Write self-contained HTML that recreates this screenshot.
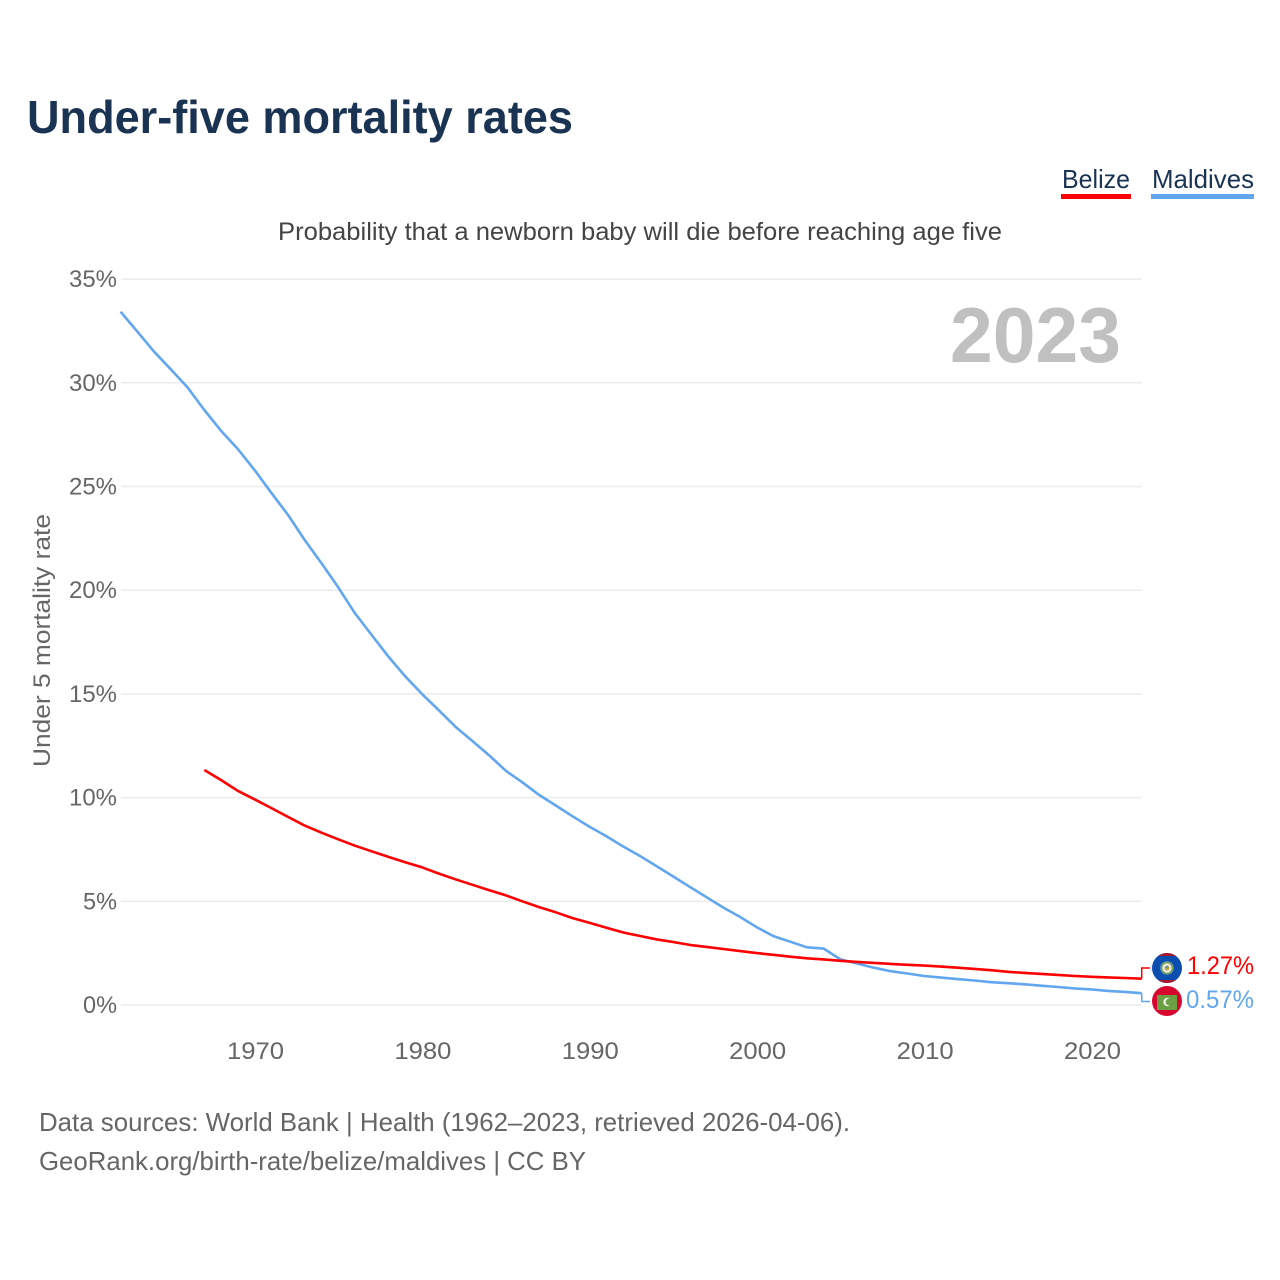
<!DOCTYPE html>
<html lang="en">
<head>
<meta charset="utf-8">
<title>Under-five mortality rates</title>
<style>
html,body{margin:0;padding:0;background:#fff;width:1280px;height:1280px;overflow:hidden}
svg{display:block;font-family:"Liberation Sans",sans-serif}
</style>
</head>
<body>
<svg id="chart" xmlns="http://www.w3.org/2000/svg" width="1280" height="1280" viewBox="0 0 1280 1280">
  <rect x="0" y="0" width="1280" height="1280" fill="#fff"/>
  <text x="27" y="133" font-size="46" font-weight="700" fill="#1a3353" textLength="546" lengthAdjust="spacingAndGlyphs">Under-five mortality rates</text>
  <g>
    <text x="1062" y="188" font-size="26" fill="#1a3353" textLength="68" lengthAdjust="spacingAndGlyphs">Belize</text>
    <rect x="1061" y="194" width="70" height="5" fill="#ff0000"/>
  </g>
  <g>
    <text x="1152" y="188" font-size="26" fill="#1a3353" textLength="102" lengthAdjust="spacingAndGlyphs">Maldives</text>
    <rect x="1151" y="194" width="103" height="5" fill="#62a6ef"/>
  </g>
  <text x="278" y="240" font-size="25" fill="#444" textLength="724" lengthAdjust="spacingAndGlyphs">Probability that a newborn baby will die before reaching age five</text>
  <text transform="translate(50,767) rotate(-90)" font-size="24" fill="#666" textLength="253" lengthAdjust="spacingAndGlyphs">Under 5 mortality rate</text>
  <g id="grid"></g>
  <g id="yticks"></g>
  <g id="xticks"></g>
  <text x="950" y="362" font-size="78" font-weight="700" fill="#c0c0c0" textLength="171" lengthAdjust="spacingAndGlyphs">2023</text>
  <g id="series"></g>
  <g>
    <polyline id="conn-b" fill="none" stroke="#ff0000" stroke-width="1.5"/>
    <polyline id="conn-m" fill="none" stroke="#62a6ef" stroke-width="1.5"/>
    <g>
      <clipPath id="clip-bz"><circle cx="1167" cy="968" r="15"/></clipPath>
      <g clip-path="url(#clip-bz)">
        <rect x="1152" y="953" width="30" height="30" fill="#0a4fb0"/>
        <rect x="1152" y="953" width="30" height="3" fill="#a8192e"/>
        <rect x="1152" y="980" width="30" height="3" fill="#a8192e"/>
      </g>
      <circle cx="1167" cy="968" r="6.5" fill="#e8efe2"/>
      <circle cx="1167" cy="968" r="5.5" fill="none" stroke="#6f9a58" stroke-width="1.6"/>
      <circle cx="1167" cy="968" r="2.6" fill="#c9a94c"/>
      <circle cx="1167" cy="967.3" r="1.2" fill="#5b8fb0"/>
    </g>
    <g>
      <circle cx="1167" cy="1001" r="15" fill="#d7062f"/>
      <rect x="1157" y="995" width="20" height="15" fill="#6aa043"/>
      <circle cx="1167.5" cy="1002" r="4.2" fill="#eef3e6"/>
      <circle cx="1169.3" cy="1002" r="3.6" fill="#6aa043"/>
    </g>
    <text id="val-b" x="1187" y="974" font-size="25" fill="#ff0000" textLength="67" lengthAdjust="spacingAndGlyphs"></text>
    <text id="val-m" x="1186" y="1008" font-size="25" fill="#62a6ef" textLength="68" lengthAdjust="spacingAndGlyphs"></text>
  </g>
  <text x="39" y="1131" font-size="26" fill="#666" textLength="811" lengthAdjust="spacingAndGlyphs">Data sources: World Bank | Health (1962–2023, retrieved 2026-04-06).</text>
  <text x="39" y="1170" font-size="26" fill="#666" textLength="547" lengthAdjust="spacingAndGlyphs">GeoRank.org/birth-rate/belize/maldives | CC BY</text>
</svg>
<script>
const yTicks = [0, 5, 10, 15, 20, 25, 30, 35];
const xTicks = [1970, 1980, 1990, 2000, 2010, 2020];
const maldivesStart = 1962;
const maldivesValues = [33.43,32.47,31.5,30.65,29.78,28.69,27.69,26.81,25.8,24.7,23.63,22.42,21.3,20.14,18.89,17.84,16.8,15.85,15.0,14.22,13.42,12.74,12.05,11.3,10.74,10.13,9.62,9.1,8.6,8.15,7.65,7.2,6.7,6.2,5.7,5.2,4.7,4.25,3.75,3.32,3.05,2.78,2.72,2.2,2.0,1.8,1.63,1.52,1.4,1.32,1.25,1.18,1.1,1.05,1.0,0.93,0.87,0.8,0.75,0.68,0.63,0.57];
const belizeStart = 1967;
const belizeValues = [11.33,10.85,10.33,9.92,9.5,9.07,8.65,8.31,7.99,7.68,7.41,7.14,6.88,6.64,6.34,6.06,5.8,5.54,5.29,5.0,4.72,4.47,4.19,3.97,3.73,3.5,3.33,3.17,3.04,2.9,2.8,2.7,2.6,2.5,2.42,2.33,2.25,2.2,2.13,2.08,2.03,1.98,1.94,1.9,1.85,1.8,1.74,1.68,1.6,1.55,1.5,1.45,1.4,1.36,1.33,1.3,1.27];

const SVGNS = 'http://www.w3.org/2000/svg';
function xScale(year) { return 254.5 + (year - 1970) * 16.74; }
function yScale(v) { return 1005 - v * 20.74; }
function make(tag, parent) {
  const el = document.createElementNS(SVGNS, tag);
  parent.appendChild(el);
  return el;
}

const grid = document.getElementById('grid');
const yTickGroup = document.getElementById('yticks');
yTicks.forEach(function (t) {
  const line = make('line', grid);
  
  
  line.setAttribute('x1', 121);
  line.setAttribute('x2', xScale(2023));
  line.setAttribute('y1', yScale(t));
  line.setAttribute('y2', yScale(t));
  line.setAttribute('stroke', '#ececec');
  line.setAttribute('stroke-width', '1.5');
  const label = make('text', yTickGroup);
  
  
  const s = t + '%';
  const w = s.length === 2 ? 34 : 48;
  label.setAttribute('x', 117 - w);
  label.setAttribute('y', yScale(t) + 8);
  label.setAttribute('font-size', '24.5');
  label.setAttribute('fill', '#666');
  label.setAttribute('textLength', w);
  label.setAttribute('lengthAdjust', 'spacingAndGlyphs');
  label.textContent = s;
});

const xTickGroup = document.getElementById('xticks');
xTicks.forEach(function (t) {
  const label = make('text', xTickGroup);
  
  
  label.setAttribute('x', xScale(t) - 27.5);
  label.setAttribute('y', 1059);
  label.setAttribute('font-size', '24.5');
  label.setAttribute('fill', '#666');
  label.setAttribute('textLength', 57);
  label.setAttribute('lengthAdjust', 'spacingAndGlyphs');
  label.textContent = String(t);
});

function linePoints(start, values) {
  return values.map(function (v, i) {
    return xScale(start + i).toFixed(1) + ',' + yScale(v).toFixed(1);
  }).join(' ');
}
const seriesGroup = document.getElementById('series');

const maldivesLine = make('polyline', seriesGroup);


maldivesLine.setAttribute('points', linePoints(maldivesStart, maldivesValues));
maldivesLine.setAttribute('fill', 'none');
maldivesLine.setAttribute('stroke', '#62a6ef');
maldivesLine.setAttribute('stroke-width', '2.6');
maldivesLine.setAttribute('stroke-linejoin', 'round');

const belizeLine = make('polyline', seriesGroup);


belizeLine.setAttribute('points', linePoints(belizeStart, belizeValues));
belizeLine.setAttribute('fill', 'none');
belizeLine.setAttribute('stroke', '#ff0000');
belizeLine.setAttribute('stroke-width', '2.6');
belizeLine.setAttribute('stroke-linejoin', 'round');

const lastX = xScale(2023);
const lastB = belizeValues[belizeValues.length - 1];
const lastM = maldivesValues[maldivesValues.length - 1];
document.getElementById('conn-b').setAttribute('points', lastX + ',' + yScale(lastB) + ' ' + lastX + ',968 1150,968');
document.getElementById('conn-m').setAttribute('points', lastX + ',' + yScale(lastM) + ' ' + lastX + ',1001.5 1150,1001.5');
document.getElementById('val-b').textContent = lastB.toFixed(2) + '%';
document.getElementById('val-m').textContent = lastM.toFixed(2) + '%';
</script>
</body>
</html>
